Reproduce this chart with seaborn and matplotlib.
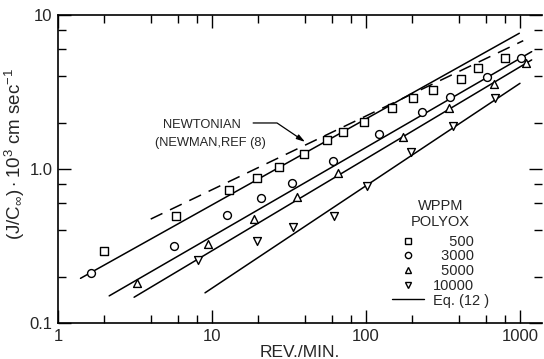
import numpy as np
import pandas as pd
import matplotlib
matplotlib.use('Agg')
import matplotlib.pyplot as plt
import seaborn as sns
from matplotlib.lines import Line2D
from matplotlib.ticker import NullFormatter

rpm_500 = [2.0, 5.8, 12.8, 19.5, 27.2, 39.6, 55.6, 71.2, 97, 147, 201, 274, 412, 536, 800]
j_500 = [0.293, 0.496, 0.731, 0.878, 1.035, 1.26, 1.54, 1.75, 2.03, 2.50, 2.88, 3.26, 3.84, 4.55, 5.24]

rpm_3000 = [1.64, 5.67, 12.6, 20.8, 32.9, 60.8, 121, 232, 351, 611, 1011]
j_3000 = [0.212, 0.318, 0.505, 0.653, 0.807, 1.12, 1.70, 2.33, 2.95, 3.94, 5.28]

rpm_5000 = [3.24, 9.42, 18.7, 35.6, 66.3, 175, 347, 681, 1089]
j_5000 = [0.183, 0.326, 0.476, 0.661, 0.938, 1.62, 2.48, 3.56, 4.86]

rpm_10000 = [8.15, 19.6, 33.6, 62.3, 102, 197, 366, 688]
j_10000 = [0.255, 0.342, 0.422, 0.493, 0.770, 1.29, 1.90, 2.90]

# Eq. (12) straight lines (end points) and the Newtonian curve
fit_rpm = {'500': [1.40, 990], '3000': [2.15, 1191], '5000': [3.12, 1191], '10000': [9.01, 1000]}
fit_j = {'500': [0.195, 7.61], '3000': [0.150, 5.78], '5000': [0.147, 5.11], '10000': [0.157, 3.6]}
newton_rpm = [4.0, 1050]
newton_j = [0.473, 6.81]

series = [('500', rpm_500, j_500, 's'),
          ('3000', rpm_3000, j_3000, 'o'),
          ('5000', rpm_5000, j_5000, '^'),
          ('10000', rpm_10000, j_10000, 'v')]
legend_labels = ['\u2007\u2007500', '\u20073000', '\u20075000', '10000', 'Eq. (12 )']
x_tick_labels = ['1', '10', '100', '1000']
y_tick_labels = ['0.1', '1.0', '10']

sns.set_style('ticks')
plt.rcParams['font.family'] = ['Liberation Sans', 'DejaVu Sans']
plt.rcParams['mathtext.fontset'] = 'custom'
plt.rcParams['mathtext.rm'] = 'Liberation Sans'
plt.rcParams['mathtext.it'] = 'Liberation Sans'

fig = plt.figure(figsize=(5.44, 3.59), dpi=100)
ax = fig.add_axes([58 / 544, 36 / 359, 484 / 544, 308 / 359])
ax.set_xscale('log')
ax.set_yscale('log')

for name, xs, ys, mk in series:
    sns.lineplot(x=fit_rpm[name], y=fit_j[name], color='black', lw=1.1, ax=ax)
    sns.scatterplot(x=xs, y=ys, marker=mk, s=32, color='white', edgecolor='black',
                    linewidth=1.0, ax=ax, legend=False, zorder=3)

sns.lineplot(x=newton_rpm, y=newton_j, color='black', lw=1.1, ax=ax)
ax.lines[-1].set_dashes((8.5, 5.5))

ax.set_xticks([1, 10, 100, 1000])
ax.set_xticklabels(x_tick_labels)
ax.set_yticks([0.1, 1, 10])
ax.set_yticklabels(y_tick_labels)
ax.set_xticks([m * 10 ** d for d in range(3) for m in (2, 4, 6, 8)], minor=True)
ax.set_yticks([m * 10.0 ** d for d in (-1, 0) for m in (2, 4, 6, 8)], minor=True)
ax.xaxis.set_minor_formatter(NullFormatter())
ax.yaxis.set_minor_formatter(NullFormatter())
ax.set_xlim(1, 1390)
ax.set_ylim(0.1, 10)
ax.tick_params(which='both', direction='in', top=True, right=True, width=1.0, color='black')
ax.tick_params(which='major', length=9.5, labelsize=12, pad=4)
ax.tick_params(which='minor', length=6)
for side in ['left', 'bottom', 'top']:
    ax.spines[side].set_linewidth(1.2)
    ax.spines[side].set_color('black')
ax.spines['right'].set_visible(False)

ax.set_xlabel('REV./MIN.', fontsize=12.5, labelpad=1)
ax.set_ylabel(r'$(\mathrm{J/C}_{\infty})\cdot 10^{3}$ cm sec$^{-1}$', fontsize=13.5)
ax.yaxis.set_label_coords(-0.064, 0.55)

ax.text(4.81, 1.93, 'NEWTONIAN', fontsize=9.3, va='center', ha='left')
ax.text(4.26, 1.47, '(NEWMAN,REF (8)', fontsize=9.3, va='center', ha='left')
ax.annotate('', xy=(40.2, 1.50), xytext=(18.5, 1.99),
            arrowprops=dict(arrowstyle='-|>,head_length=0.5,head_width=0.15', color='black',
                            lw=0.9, connectionstyle='angle,angleA=0,angleB=-34,rad=0',
                            shrinkA=0, shrinkB=0))

handles = [Line2D([], [], marker=mk, ls='none', mfc='white', mec='black', ms=4.5, mew=1.0)
           for _, _, _, mk in series]
handles.append(Line2D([], [], color='black', lw=1.0))
leg = ax.legend(handles, legend_labels, title='WPPM\nPOLYOX', loc='lower right',
                bbox_to_anchor=(0.89, 0.05), frameon=False, fontsize=10.5, title_fontsize=10.5,
                handlelength=2.2, handletextpad=0.6, labelspacing=0.05, borderpad=0,
                borderaxespad=0)
leg.get_title().set_multialignment('center')
leg._legend_box.sep = 4

fig.savefig('out.png', dpi=100, facecolor='white')
